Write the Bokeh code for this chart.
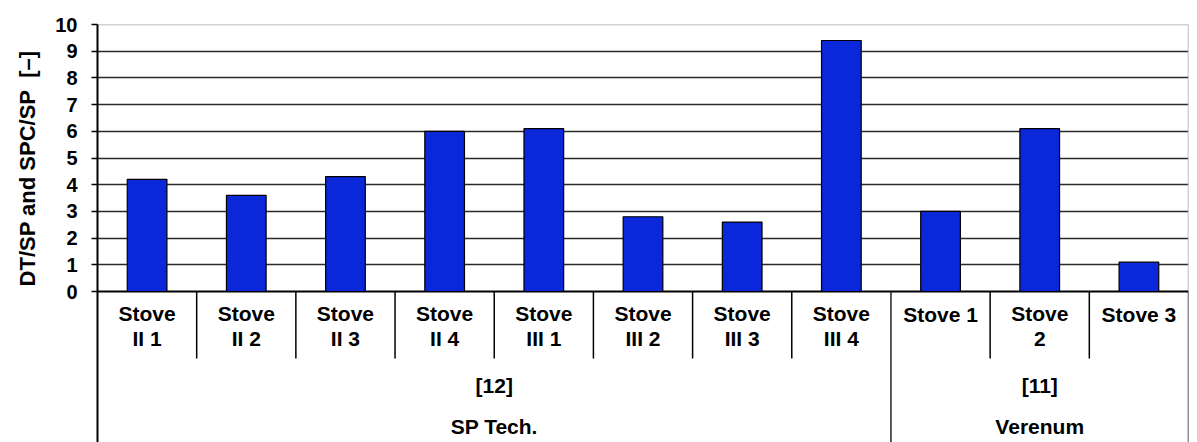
from bokeh.plotting import figure
from bokeh.models import Range1d, FixedTicker, Title, ColumnDataSource
from bokeh.core.properties import value
from bokeh.embed import file_html
from bokeh.resources import INLINE

# ---- data ----
categories = ["Stove II 1", "Stove II 2", "Stove II 3", "Stove II 4",
              "Stove III 1", "Stove III 2", "Stove III 3", "Stove III 4",
              "Stove 1", "Stove 2", "Stove 3"]
label_line1 = ["Stove", "Stove", "Stove", "Stove", "Stove", "Stove", "Stove", "Stove",
               "Stove 1", "Stove", "Stove 3"]
label_line2 = ["II 1", "II 2", "II 3", "II 4", "III 1", "III 2", "III 3", "III 4",
               "", "2", ""]
values = [4.2, 3.6, 4.3, 6.0, 6.1, 2.8, 2.6, 9.4, 3.0, 6.1, 1.1]
group_refs = ["[12]", "[11]"]
group_names = ["SP Tech.", "Verenum"]
group_sizes = [8, 3]
y_ticks = list(range(0, 11))
y_label = "DT/SP and SPC/SP\u00a0 [\u2013]"

# ---- layout helpers (canvas px -> data) ----
LEFT, TOP, ZERO, BOTTOM = 97.0, 24.0, 291.0, 442.0
PX_PER_UNIT = (ZERO - TOP) / 10.0
def ydata(py):
    return (ZERO - py) / PX_PER_UNIT

n = len(categories)
y_bottom = ydata(BOTTOM)

FONT = "Liberation Sans"
FS = "20px"
FS_CAT = "21px"

p = figure(width=1197, height=442, output_backend="svg", toolbar_location=None,
           x_range=Range1d(0, n), y_range=Range1d(y_bottom, 10),
           x_axis_type=None, min_border_left=97, min_border_right=9,
           min_border_top=24, min_border_bottom=0)
p.outline_line_color = None
p.background_fill_color = "white"
p.border_fill_color = "white"

# y axis
ax = p.yaxis[0]
ax.ticker = FixedTicker(ticks=y_ticks)
ax.axis_line_color = "black"
ax.axis_line_width = 2
ax.major_tick_in = 0
ax.major_tick_out = 6
ax.major_tick_line_width = 1.5
ax.minor_tick_line_color = None
ax.major_label_standoff = 14
ax.major_label_text_font = FONT
ax.major_label_text_font_style = "bold"
ax.major_label_text_font_size = FS
ax.major_label_text_color = "black"

# y axis title, as a left-side title so it can be shifted along the axis
p.add_layout(Title(text=y_label, align="right", offset=26, standoff=24,
                   vertical_align="middle", text_font=FONT, text_font_style="bold",
                   text_font_size="22px", text_color="black"), "left")

# grid
p.xgrid.grid_line_color = None
p.ygrid.ticker = FixedTicker(ticks=list(range(1, 10)))
p.ygrid.grid_line_color = "#2a2a2a"
p.ygrid.grid_line_width = 1.5

# top and right border (gray)
p.segment(x0=[0, n], y0=[10, 0], x1=[n, n], y1=[10, 10], line_color="#a6a6a6", line_width=1.5)
# zero line
p.segment(x0=[0], y0=[0], x1=[n], y1=[0], line_color="black", line_width=2)

# bars
xs = [i + 0.5 for i in range(n)]
src = ColumnDataSource(dict(x=xs, top=values, l1=label_line1, l2=label_line2,
                            y1=[ydata(314) if l2 == "" else ydata(313) for l2 in label_line2],
                            y2=[ydata(338)] * n))
p.vbar(x="x", top="top", bottom=0, width=0.4, source=src,
       fill_color="#0a27d9", line_color="black", line_width=1.2)

# category separators (first row of table)
bounds = [0]
for s in group_sizes:
    bounds.append(bounds[-1] + s)
inner = [i for i in range(1, n) if i not in bounds]
p.segment(x0=inner, y0=[0] * len(inner), x1=inner, y1=[ydata(358)] * len(inner),
          line_color="black", line_width=1.5)
# group separators
gsep = bounds[1:]
p.segment(x0=gsep, y0=[0] * len(gsep), x1=gsep, y1=[y_bottom] * len(gsep),
          line_color="#222222", line_width=1.5)

# category labels
p.text(x="x", y="y1", text="l1", source=src, text_align="center", text_baseline="middle",
       text_font=value(FONT), text_font_style="bold", text_font_size=FS_CAT, text_color="black")
p.text(x="x", y="y2", text="l2", source=src, text_align="center", text_baseline="middle",
       text_font=value(FONT), text_font_style="bold", text_font_size=FS_CAT, text_color="black")

# group labels
gx = [(bounds[i] + bounds[i + 1]) / 2 for i in range(len(group_sizes))]
gsrc = ColumnDataSource(dict(x=gx, ref=group_refs, name=group_names,
                             yr=[ydata(385)] * len(gx), yn=[ydata(426)] * len(gx)))
p.text(x="x", y="yr", text="ref", source=gsrc, text_align="center", text_baseline="middle",
       text_font=value(FONT), text_font_style="bold", text_font_size=FS_CAT, text_color="black")
p.text(x="x", y="yn", text="name", source=gsrc, text_align="center", text_baseline="middle",
       text_font=value(FONT), text_font_style="bold", text_font_size=FS_CAT, text_color="black")

open("out.html", "w").write(file_html(p, INLINE))
